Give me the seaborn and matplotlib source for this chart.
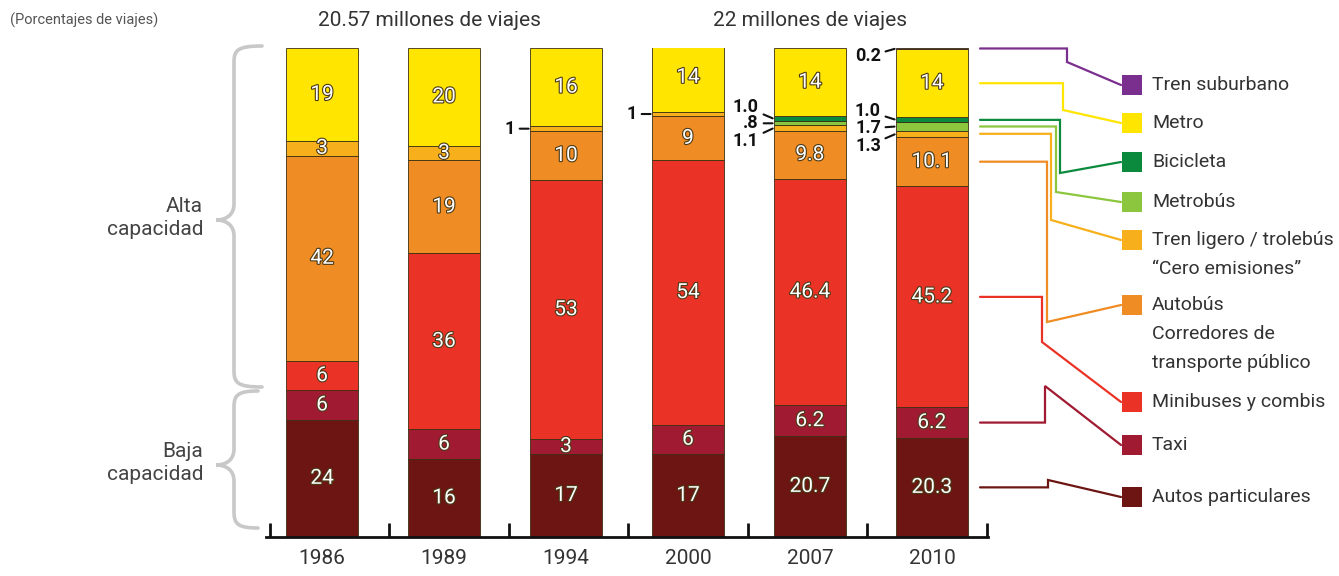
import numpy as np
import pandas as pd
import matplotlib.pyplot as plt
import matplotlib.patheffects as pe
from matplotlib.path import Path
from matplotlib.patches import PathPatch, Rectangle
import seaborn as sns

plt.switch_backend("Agg")

W, H = 1339, 576

years = ["1986", "1989", "1994", "2000", "2007", "2010"]
modes = ["Autos particulares", "Taxi", "Minibuses y combis", "Autobús",
         "Tren ligero", "Metrobús", "Bicicleta", "Metro", "Tren suburbano"]
colors = ["#6c1512", "#a01b32", "#ea3326", "#ef8c24", "#f7b01c",
          "#8cc63f", "#0b8a3e", "#ffe500", "#7a2e8e"]

autos = [24, 16, 17, 17, 20.7, 20.3]
taxi = [6, 6, 3, 6, 6.2, 6.2]
minibuses = [6, 36, 53, 54, 46.4, 45.2]
autobus = [42, 19, 10, 9, 9.8, 10.1]
tren_ligero = [3, 3, 1, 1, 1.1, 1.3]
metrobus = [0, 0, 0, 0, 0.8, 1.7]
bicicleta = [0, 0, 0, 0, 1.0, 1.0]
metro = [19, 20, 16, 14, 14, 14]
suburbano = [0, 0, 0, 0, 0, 0.2]
series = [autos, taxi, minibuses, autobus, tren_ligero, metrobus, bicicleta, metro, suburbano]

legend_text = ["Autos particulares", "Taxi", "Minibuses y combis",
               "Autobús\nCorredores de\ntransporte público",
               "Tren ligero / trolebús\n\u201cCero emisiones\u201d",
               "Metrobús", "Bicicleta", "Metro", "Tren suburbano"]

sns.set_style("white")
plt.rcParams["font.family"] = ["Roboto", "DejaVu Sans"]

EDGE = "#3a2e12"
BAR_W = 0.59

fig = plt.figure(figsize=(W / 100, H / 100), dpi=100)
ax = fig.add_axes([266 / W, (H - 537) / H, 722 / W, 489 / H])

bottoms = []
base = np.zeros(len(years))
for name, vals, c in zip(modes, series, colors):
    vals = np.array(vals, dtype=float)
    keep = vals > 0
    sub = pd.DataFrame({"year": np.array(years)[keep], "pct": vals[keep]})
    sns.barplot(data=sub, x="year", y="pct", order=years, color=c, saturation=1,
                width=BAR_W, bottom=base[keep], edgecolor=EDGE, linewidth=0.6,
                errorbar=None, ax=ax)
    bottoms.append(base.copy())
    base = base + vals

# labels inside segments
stroke = [pe.withStroke(linewidth=1.6, foreground="#4a3a18")]
for m, vals in enumerate(series):
    for i, v in enumerate(vals):
        if v >= 3:
            ax.text(i, bottoms[m][i] + v / 2, f"{v:g}", ha="center", va="center",
                    color="white", fontsize=15, path_effects=stroke, zorder=5)

# small values pointed from the left of the bar
small = [(2, 4, "1", -15, 0), (3, 4, "1", -15, 0),
         (4, 6, "1.0", -15, 12), (4, 5, ".8", -15, 0), (4, 4, "1.1", -15, -13),
         (5, 6, "1.0", -15, 9), (5, 5, "1.7", -15, -2), (5, 4, "1.3", -15, -12),
         (5, 8, "0.2", -15, -8)]
for i, m, txt, dx, dy in small:
    mid = bottoms[m][i] + series[m][i] / 2
    ax.annotate(txt, xy=(i - BAR_W / 2, mid), xytext=(dx, dy),
                textcoords="offset pixels", ha="right", va="center",
                fontsize=13, fontweight="bold", color="#111",
                arrowprops=dict(arrowstyle="-", color="#111", lw=1.5,
                                shrinkA=1, shrinkB=1),
                annotation_clip=False)

ax.set_ylim(0, 100)
ax.set_xlim(-0.46, 5.46)
ax.set_xlabel("")
ax.set_ylabel("")
ax.set_yticks([])
for s in ["top", "right", "left"]:
    ax.spines[s].set_visible(False)
ax.spines["bottom"].set_linewidth(2)
ax.spines["bottom"].set_color("#111")
ax.set_xticks([-0.43 + 0.98 * k for k in range(7)], [""] * 7)
ax.set_xticks(range(len(years)), years, minor=True)
ax.tick_params(axis="x", which="major", bottom=True, direction="in", length=10,
               width=2, color="#111")
ax.tick_params(axis="x", which="minor", bottom=True, length=0, pad=9, labelsize=15,
               labelcolor="#333")
ax.patch.set_alpha(0)

# overlay in pixel coordinates for notes, braces and legend
ov = fig.add_axes([0, 0, 1, 1])
ov.set_xlim(0, W)
ov.set_ylim(H, 0)
ov.axis("off")

ov.text(10, 20, "(Porcentajes de viajes)", fontsize=10.5, color="#555", va="center")
ov.text(429, 20, "20.57 millones de viajes", fontsize=15, color="#333", ha="center", va="center")
ov.text(810, 20, "22 millones de viajes", fontsize=15, color="#333", ha="center", va="center")
ov.text(203, 218, "Alta\ncapacidad", fontsize=15, color="#444", ha="right", va="center",
        linespacing=1.3)
ov.text(203, 463, "Baja\ncapacidad", fontsize=15, color="#444", ha="right", va="center",
        linespacing=1.3)


def brace(y_top, y_bot, y_tip, x_spine=234, x_tip=216, x_end=262, r=16):
    verts = [(x_end, y_top),
             (x_spine + 4, y_top), (x_spine, y_top + 4), (x_spine, y_top + r),
             (x_spine, y_tip - r),
             (x_spine, y_tip - 5), (x_tip + 10, y_tip), (x_tip, y_tip),
             (x_tip + 10, y_tip), (x_spine, y_tip + 5), (x_spine, y_tip + r),
             (x_spine, y_bot - r),
             (x_spine, y_bot - 4), (x_spine + 4, y_bot), (x_end, y_bot)]
    codes = [Path.MOVETO] + [Path.CURVE4] * 3 + [Path.LINETO] + [Path.CURVE4] * 6 \
        + [Path.LINETO] + [Path.CURVE4] * 3
    ov.add_patch(PathPatch(Path(verts, codes), fill=False, edgecolor="#c8c8c8", lw=2.6,
                           capstyle="round"))


brace(46, 387, 220)
brace(391, 528, 465, x_end=258)

# legend with leader lines from the 2010 bar
leg = {8: (85, 1067), 7: (123, 1063), 6: (162, 1060), 5: (202, 1056), 4: (240, 1051),
       3: (305, 1047), 2: (402, 1042), 1: (445, 1045), 0: (497, 1048)}
bend_y = {8: 62, 7: 110, 6: 173, 5: 192, 4: 220, 3: 322, 2: 342, 1: 386, 0: 480}
inv = ov.transData.inverted()
for m, (ysq, xb) in leg.items():
    mid = bottoms[m][5] + series[m][5] / 2
    y0 = inv.transform(ax.transData.transform((5, mid)))[1]
    ov.plot([980, xb, xb, 1121], [y0, y0, bend_y[m], ysq], color=colors[m], lw=1.6,
            solid_joinstyle="miter")
    ov.add_patch(Rectangle((1122, ysq - 10), 20, 20, facecolor=colors[m], edgecolor="none"))
    for k, line in enumerate(legend_text[m].split("\n")):
        ov.text(1152, ysq + k * 29, line, fontsize=14, color="#333", va="center")

fig.savefig("out.png", dpi=100)
plt.close(fig)
